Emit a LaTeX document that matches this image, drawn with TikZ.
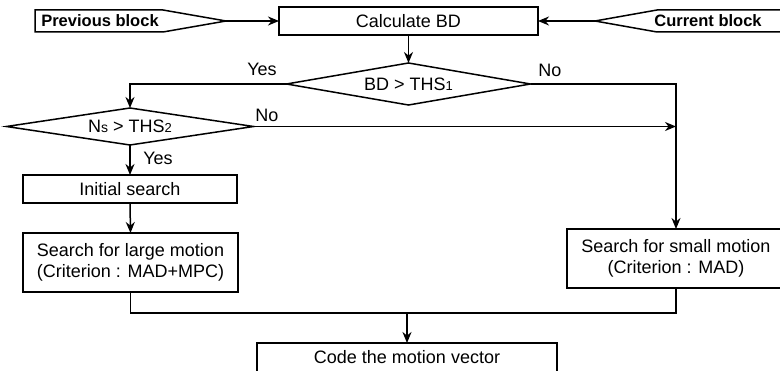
\documentclass[tikz,border=0pt]{standalone}
\usepackage{fontspec}
\setmainfont{Liberation Sans}
\usetikzlibrary{arrows.meta,shapes.geometric}
\begin{document}
\begin{tikzpicture}[x=1pt,y=-1pt,line width=1.5pt,
  every node/.style={font=\fontsize{18}{21}\selectfont, inner sep=0pt, outer sep=0pt},
  procbox/.style={draw, rectangle, align=center},
  dec/.style={draw, diamond, aspect=6},
  tag/.style={font=\bfseries\fontsize{16.5}{18}\selectfont},
  flow/.style={-{Stealth[length=11pt,width=9pt,inset=3.5pt]}}]
\useasboundingbox (0,0) rectangle (780,371);

% input blocks
\node[tag] (prev) at (100,21) {Previous block};
\coordinate (prevtip) at (226,21);
\draw (35,10) -- (163,10) -- (prevtip) -- (163,32) -- (35,32) -- cycle;
\node[tag] (cur) at (708,21) {Current block};
\coordinate (curtip) at (595,21);
\draw (795,10) -- (657,10) -- (curtip) -- (657,32) -- (795,32);

% process boxes
\node[procbox, minimum width=259pt, minimum height=28pt] (calc) at (408.5,21) {Calculate BD};
\node[dec, minimum width=244pt, minimum height=42pt] (d1) at (408.5,84) {BD > THS{\fontsize{13}{13}\selectfont 1}};
\node[dec, minimum width=247pt, minimum height=37pt] (d2) at (130,126.5) {N{\fontsize{14}{14}\selectfont s} > THS{\fontsize{13}{13}\selectfont 2}};
\node[procbox, minimum width=214pt, minimum height=28pt] (init) at (130,189) {Initial search};
\node[procbox, minimum width=215pt, minimum height=59pt] (large) at (130.5,262.5) {Search for large motion\\(Criterion : MAD+MPC)};
\node[procbox, minimum width=218pt, minimum height=59pt] (small) at (676,258.5) {Search for small motion\\(Criterion : MAD)};
\node[minimum width=300pt, minimum height=28pt] (code) at (407,357) {Code the motion vector};
\draw ([yshift=-30pt]code.south west) |- (code.north east) -- ([yshift=-30pt]code.south east);

% labels
\node (yes1) at (262,69) {Yes};
\node (no1) at (550,70) {No};
\node (no2) at (267,115) {No};
\node (yes2) at (158,158) {Yes};

% connectors
\draw[flow] (prevtip) -- (calc.west);
\draw[flow] (curtip) -- (calc.east);
\draw[flow] (calc.south) -- (d1.north);
\draw[flow] (d1.west) -| (d2.north);
\draw[flow] (d1.east) -| (small.north);
\draw[flow] (d2.east) -- (d2.east -| small.north);
\draw[flow] (d2.south) -- (init.north);
\draw[flow] (init.south) -- (large.north);
\coordinate (join) at (407,313);
\draw (large.south) |- (join) -| (small.south);
\draw[flow] (join) -- (code.north);
\end{tikzpicture}
\end{document}
